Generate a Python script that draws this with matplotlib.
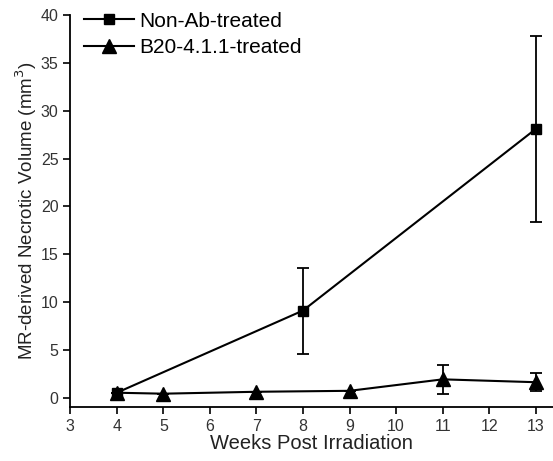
import matplotlib
matplotlib.use("Agg")
from matplotlib import pyplot as plt
from matplotlib.lines import Line2D

plt.rcParams['font.family'] = ['Liberation Sans', 'DejaVu Sans']

# Non-Ab-treated
wk1 = [4, 8, 13]
vol1 = [0.5, 9.1, 28.1]
err1 = [0.0, 4.5, 9.75]

# B20-4.1.1-treated
wk2 = [4, 5, 7, 9, 11, 13]
vol2 = [0.5, 0.4, 0.6, 0.7, 1.9, 1.6]
err2 = [0.0, 0.0, 0.0, 0.0, 1.5, 0.95]

xticks = [3, 4, 5, 6, 7, 8, 9, 10, 11, 12, 13]
yticks = [0, 5, 10, 15, 20, 25, 30, 35, 40]

fig = plt.figure(figsize=(5.53, 4.61), dpi=100)
ax = fig.add_axes([0.127, 0.117, 0.873, 0.85])

ax.errorbar(wk1, vol1, yerr=err1, color='black', marker='s', markersize=7.5,
            linewidth=1.5, elinewidth=1.3, capsize=4, capthick=1.3)
ax.errorbar(wk2, vol2, yerr=err2, color='black', marker='^', markersize=10,
            linewidth=1.5, elinewidth=1.3, capsize=4, capthick=1.3)

ax.set_xlim(3, 13.37)
ax.set_ylim(-1, 40)
ax.set_xticks(xticks)
ax.set_yticks(yticks)
for s in ['top', 'right']:
    ax.spines[s].set_visible(False)
ax.spines['left'].set_linewidth(1.3)
ax.spines['bottom'].set_linewidth(1.3)
ax.tick_params(direction='out', length=5, width=1.2, labelsize=11.5, colors='black')
ax.tick_params(axis='both', labelcolor='#333333')

ax.set_xlabel('Weeks Post Irradiation', fontsize=14.5, labelpad=0, color='#222222')
ax.set_ylabel('MR-derived Necrotic Volume (mm$^3$)', fontsize=13.5, labelpad=1, color='#222222')

handles = [Line2D([], [], color='black', marker='s', markersize=7.5, linewidth=1.5),
           Line2D([], [], color='black', marker='^', markersize=10, linewidth=1.5)]
labels = ['Non-Ab-treated', 'B20-4.1.1-treated']
ax.legend(handles, labels, loc='upper left', frameon=False, fontsize=15, handlelength=2.4,
          borderaxespad=0.0, bbox_to_anchor=(0.012, 1.03), labelspacing=0.35,
          handletextpad=0.25)

fig.savefig('out.png', dpi=100)
